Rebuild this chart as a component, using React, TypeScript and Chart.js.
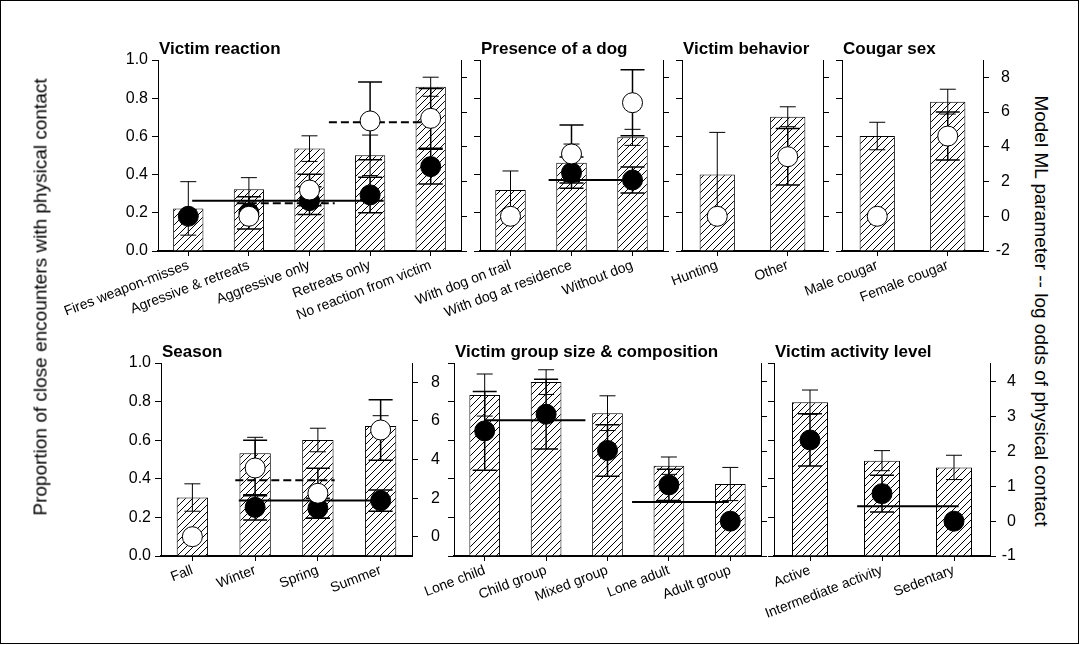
import React, { useEffect, useRef } from 'react';
import { Chart, registerables } from 'chart.js';

Chart.register(...registerables);

const FONT = "'Liberation Sans', Arial, Helvetica, sans-serif";

// ---------- tick labels ----------
const proportionTicks = [0, 0.2, 0.4, 0.6, 0.8, 1.0];
const topLogOddsTicks = [-2, 0, 2, 4, 6, 8];
const seasonLogOddsTicks = [0, 2, 4, 6, 8];
const groupLogOddsTicks = [-1, 0, 1, 2, 3, 4];

// ---------- Victim reaction ----------
const reactionCategories = ['Fires weapon-misses', 'Agressive & retreats', 'Aggressive only', 'Retreats only', 'No reaction from victim'];
const reactionBars = [0.223, 0.323, 0.536, 0.501, 0.86];
const reactionBarErr = [0.14, 0.061, 0.067, 0.106, 0.05];
const reactionOpen = [null, 0, 1.51, 5.49, 5.64];
const reactionOpenErr = [null, null, 0.91, 2.24, 1.72];
const reactionFilled = [0, 0.2, 0.9, 1.23, 2.86];
const reactionFilledErr = [null, 0.93, 0.8, 1.02, 1.0];
const reactionLineValues = [0.9, 0.75, 5.41];
const reactionLineFrom = [-0.42, 0.5, 2.4];
const reactionLineTo = [3.53, 2.52, 4.45];
const reactionLineDashed = [false, true, true];

// ---------- Presence of a dog ----------
const dogCategories = ['With dog on trail', 'With dog at residence', 'Without dog'];
const dogBars = [0.319, 0.462, 0.595];
const dogBarErr = [0.1, 0.098, 0.042];
const dogOpen = [0, 3.59, 6.54];
const dogOpenErr = [null, 1.67, 1.9];
const dogFilled = [null, 2.51, 2.09];
const dogFilledErr = [null, 0.9, 0.75];
const dogLineValues = [2.09];
const dogLineFrom = [0.5];
const dogLineTo = [2.45];
const dogLineDashed = [false];

// ---------- Victim behavior ----------
const behaviorCategories = ['Hunting', 'Other'];
const behaviorBars = [0.4, 0.703];
const behaviorBarErr = [0.221, 0.052];
const behaviorOpen = [0, 3.43];
const behaviorOpenErr = [null, 1.63];

// ---------- Cougar sex ----------
const sexCategories = ['Male cougar', 'Female cougar'];
const sexBars = [0.602, 0.782];
const sexBarErr = [0.072, 0.065];
const sexOpen = [0, 4.62];
const sexOpenErr = [null, 1.38];

// ---------- Season ----------
const seasonCategories = ['Fall', 'Winter', 'Spring', 'Summer'];
const seasonBars = [0.303, 0.532, 0.601, 0.674];
const seasonBarErr = [0.071, 0.083, 0.061, 0.053];
const seasonOpen = [0, 3.56, 2.25, 5.53];
const seasonOpenErr = [null, 1.44, 1.3, 1.57];
const seasonFilled = [null, 1.52, 1.47, 1.87];
const seasonFilledErr = [null, 0.66, 0.52, 0.55];
const seasonLineValues = [1.87, 2.93];
const seasonLineFrom = [0.55, 0.48];
const seasonLineTo = [3.4, 2.46];
const seasonLineDashed = [false, true];

// ---------- Victim group size & composition ----------
const groupCategories = ['Lone child', 'Child group', 'Mixed group', 'Lone adult', 'Adult group'];
const groupBars = [0.834, 0.901, 0.74, 0.468, 0.373];
const groupBarErr = [0.109, 0.064, 0.09, 0.045, 0.086];
const groupFilled = [2.59, 3.07, 2.03, 1.04, 0];
const groupFilledErr = [1.13, 1.0, 0.74, 0.45, null];
const groupLineValues = [2.9, 0.55];
const groupLineFrom = [-0.5, 2.5];
const groupLineTo = [1.55, 4.47];
const groupLineDashed = [false, false];

// ---------- Victim activity level ----------
const activityCategories = ['Active', 'Intermediate activity', 'Sedentary'];
const activityBars = [0.797, 0.494, 0.459];
const activityBarErr = [0.063, 0.052, 0.063];
const activityFilled = [2.33, 0.79, 0];
const activityFilledErr = [0.75, 0.53, null];
const activityLineValues = [0.43];
const activityLineFrom = [0.54];
const activityLineTo = [2.42];
const activityLineDashed = [false];

type Num = number | null;
type PanelSpec = {
  title: string;
  categories: string[];
  bars: number[];
  barErr: number[];
  open?: Num[];
  openErr?: Num[];
  filled?: Num[];
  filledErr?: Num[];
  lineValues?: number[];
  lineFrom?: number[];
  lineTo?: number[];
  lineDashed?: boolean[];
  rightMin: number;
  rightMax: number;
  rightTicks: number[];
  showLeft: boolean;
  showRight: boolean;
  rightPad: number;
  left: number;
  top: number;
  width: number;
  height: number;
  padL: number;
  padR: number;
};

const PAD_T = 40;
const PAD_B = 90;

const panels: PanelSpec[] = [
  {
    title: 'Victim reaction', categories: reactionCategories, bars: reactionBars, barErr: reactionBarErr,
    open: reactionOpen, openErr: reactionOpenErr, filled: reactionFilled, filledErr: reactionFilledErr,
    lineValues: reactionLineValues, lineFrom: reactionLineFrom, lineTo: reactionLineTo, lineDashed: reactionLineDashed,
    rightMin: -2, rightMax: 9, rightTicks: topLogOddsTicks, showLeft: true, showRight: false, rightPad: 7,
    left: 158, top: 60, width: 303, height: 191, padL: 150, padR: 27,
  },
  {
    title: 'Presence of a dog', categories: dogCategories, bars: dogBars, barErr: dogBarErr,
    open: dogOpen, openErr: dogOpenErr, filled: dogFilled, filledErr: dogFilledErr,
    lineValues: dogLineValues, lineFrom: dogLineFrom, lineTo: dogLineTo, lineDashed: dogLineDashed,
    rightMin: -2, rightMax: 9, rightTicks: topLogOddsTicks, showLeft: false, showRight: false, rightPad: 7,
    left: 480, top: 60, width: 183, height: 191, padL: 110, padR: 27,
  },
  {
    title: 'Victim behavior', categories: behaviorCategories, bars: behaviorBars, barErr: behaviorBarErr,
    open: behaviorOpen, openErr: behaviorOpenErr,
    rightMin: -2, rightMax: 9, rightTicks: topLogOddsTicks, showLeft: false, showRight: false, rightPad: 7,
    left: 682, top: 60, width: 141, height: 191, padL: 110, padR: 27,
  },
  {
    title: 'Cougar sex', categories: sexCategories, bars: sexBars, barErr: sexBarErr,
    open: sexOpen, openErr: sexOpenErr,
    rightMin: -2, rightMax: 9, rightTicks: topLogOddsTicks, showLeft: false, showRight: true, rightPad: 7,
    left: 842, top: 60, width: 141, height: 191, padL: 110, padR: 27,
  },
  {
    title: 'Season', categories: seasonCategories, bars: seasonBars, barErr: seasonBarErr,
    open: seasonOpen, openErr: seasonOpenErr, filled: seasonFilled, filledErr: seasonFilledErr,
    lineValues: seasonLineValues, lineFrom: seasonLineFrom, lineTo: seasonLineTo, lineDashed: seasonLineDashed,
    rightMin: -1, rightMax: 9, rightTicks: seasonLogOddsTicks, showLeft: true, showRight: true, rightPad: 10,
    left: 161, top: 363, width: 251, height: 193, padL: 150, padR: 28,
  },
  {
    title: 'Victim group size & composition', categories: groupCategories, bars: groupBars, barErr: groupBarErr,
    filled: groupFilled, filledErr: groupFilledErr,
    lineValues: groupLineValues, lineFrom: groupLineFrom, lineTo: groupLineTo, lineDashed: groupLineDashed,
    rightMin: -1, rightMax: 4.54, rightTicks: groupLogOddsTicks, showLeft: false, showRight: false, rightPad: 6,
    left: 454, top: 363, width: 308, height: 193, padL: 110, padR: 10,
  },
  {
    title: 'Victim activity level', categories: activityCategories, bars: activityBars, barErr: activityBarErr,
    filled: activityFilled, filledErr: activityFilledErr,
    lineValues: activityLineValues, lineFrom: activityLineFrom, lineTo: activityLineTo, lineDashed: activityLineDashed,
    rightMin: -1, rightMax: 4.54, rightTicks: groupLogOddsTicks, showLeft: false, showRight: true, rightPad: 6,
    left: 774, top: 363, width: 216, height: 193, padL: 110, padR: 26,
  },
];

function makeHatch(ctx: CanvasRenderingContext2D): CanvasPattern | string {
  const s = 7;
  const c = document.createElement('canvas');
  c.width = s;
  c.height = s;
  const g = c.getContext('2d');
  if (!g) return '#fff';
  g.fillStyle = '#fff';
  g.fillRect(0, 0, s, s);
  g.strokeStyle = '#000';
  g.lineWidth = 1;
  g.beginPath();
  g.moveTo(0, s);
  g.lineTo(s, 0);
  g.moveTo(-1, 1);
  g.lineTo(1, -1);
  g.moveTo(s - 1, s + 1);
  g.lineTo(s + 1, s - 1);
  g.stroke();
  return ctx.createPattern(c, 'repeat') || '#fff';
}

function Panel({ spec }: { spec: PanelSpec }) {
  const ref = useRef<HTMLCanvasElement>(null);
  const W = spec.width + spec.padL + spec.padR;
  const H = spec.height + PAD_T + PAD_B;

  useEffect(() => {
    const canvas = ref.current;
    if (!canvas) return;
    const ctx = canvas.getContext('2d');
    if (!ctx) return;
    const hatch = makeHatch(ctx);
    const n = spec.categories.length;

    const datasets: any[] = [];
    datasets.push({
      type: 'bar',
      data: spec.bars,
      backgroundColor: hatch,
      borderColor: '#000',
      borderWidth: 1,
      grouped: false,
      barPercentage: 0.5,
      categoryPercentage: 1,
      xAxisID: 'x',
      yAxisID: 'y',
      order: 10,
    });
    (spec.lineValues || []).forEach((v, i) => {
      datasets.push({
        type: 'line',
        data: [
          { x: spec.lineFrom![i], y: v },
          { x: spec.lineTo![i], y: v },
        ],
        xAxisID: 'xl',
        yAxisID: 'y2',
        borderColor: '#000',
        borderWidth: 2,
        borderDash: spec.lineDashed![i] ? [8, 4] : [],
        pointRadius: 0,
        fill: false,
        order: 5,
      });
    });
    if (spec.filled) {
      datasets.push({
        type: 'line',
        data: spec.filled,
        showLine: false,
        pointRadius: 10,
        pointBackgroundColor: '#000',
        pointBorderColor: '#000',
        pointBorderWidth: 1,
        xAxisID: 'x',
        yAxisID: 'y2',
        clip: false,
        order: 2,
      });
    }
    if (spec.open) {
      datasets.push({
        type: 'line',
        data: spec.open,
        showLine: false,
        pointRadius: 10,
        pointBackgroundColor: '#fff',
        pointBorderColor: '#000',
        pointBorderWidth: 1,
        xAxisID: 'x',
        yAxisID: 'y2',
        clip: false,
        order: 1,
      });
    }

    const overlay = {
      id: 'overlay',
      afterDatasetDraw(chart: any, args: any) {
        if (args.index !== 0) return;
        const c = chart.ctx as CanvasRenderingContext2D;
        const xs = chart.scales.x;
        const ys = chart.scales.y;
        const y2 = chart.scales.y2;
        c.save();
        c.strokeStyle = '#000';
        const draw = (px: number, a: number, b: number, cap: number, lw: number) => {
          c.lineWidth = lw;
          c.beginPath();
          c.moveTo(px, a);
          c.lineTo(px, b);
          c.moveTo(px - cap / 2, a);
          c.lineTo(px + cap / 2, a);
          c.moveTo(px - cap / 2, b);
          c.lineTo(px + cap / 2, b);
          c.stroke();
        };
        spec.bars.forEach((v, i) => {
          const e = spec.barErr[i];
          if (e == null) return;
          draw(xs.getPixelForValue(i), ys.getPixelForValue(v + e), ys.getPixelForValue(v - e), 16, 1);
        });
        const sets: [Num[] | undefined, Num[] | undefined][] = [
          [spec.filled, spec.filledErr],
          [spec.open, spec.openErr],
        ];
        sets.forEach(([vals, errs]) => {
          (vals || []).forEach((v, i) => {
            const e = errs ? errs[i] : null;
            if (v == null || e == null) return;
            draw(xs.getPixelForValue(i), y2.getPixelForValue(v + e), y2.getPixelForValue(v - e), 24, 1.5);
          });
        });
        c.restore();
      },
      afterDraw(chart: any) {
        const c = chart.ctx as CanvasRenderingContext2D;
        c.save();
        c.font = `bold 17px ${FONT}`;
        c.fillStyle = '#000';
        c.textAlign = 'left';
        c.textBaseline = 'alphabetic';
        c.fillText(spec.title, chart.chartArea.left + 1, chart.chartArea.top - 6);
        c.restore();
      },
    };

    const chart = new Chart(canvas, {
      type: 'bar',
      data: { labels: spec.categories, datasets },
      options: {
        responsive: false,
        animation: false,
        devicePixelRatio: 1,
        events: [],
        layout: { padding: { top: PAD_T, left: 0, right: 0, bottom: 0 } },
        plugins: { legend: { display: false }, tooltip: { enabled: false }, title: { display: false } },
        scales: {
          x: {
            type: 'category',
            position: 'bottom',
            offset: true,
            grid: { offset: false, drawOnChartArea: false, tickLength: 5, color: '#000', lineWidth: 1 },
            border: { display: true, color: '#000', width: 2 },
            ticks: {
              autoSkip: false,
              maxRotation: 21,
              minRotation: 21,
              padding: 1,
              color: '#000',
              font: { family: FONT, size: 14 },
            },
            afterFit: (s: any) => { s.height = PAD_B; },
          },
          xl: {
            type: 'linear',
            display: false,
            min: -0.5,
            max: n - 0.5,
          },
          y: {
            type: 'linear',
            position: 'left',
            min: 0,
            max: 1,
            afterBuildTicks: (s: any) => { s.ticks = proportionTicks.map((v) => ({ value: v })); },
            grid: { drawOnChartArea: false, tickLength: 6, color: '#000', lineWidth: 1 },
            border: { display: true, color: '#000', width: 1 },
            ticks: {
              display: spec.showLeft,
              padding: 4,
              color: '#000',
              font: { family: FONT, size: 16 },
              callback: (v: any) => Number(v).toFixed(1),
            },
            afterFit: (s: any) => { s.width = spec.padL; },
          },
          y2: {
            type: 'linear',
            position: 'right',
            min: spec.rightMin,
            max: spec.rightMax,
            afterBuildTicks: (s: any) => { s.ticks = spec.rightTicks.map((v) => ({ value: v })); },
            grid: { drawOnChartArea: false, tickLength: 6, color: '#000', lineWidth: 1 },
            border: { display: true, color: '#000', width: 1 },
            ticks: {
              display: spec.showRight,
              padding: spec.rightPad,
              crossAlign: 'far',
              color: '#000',
              font: { family: FONT, size: 16 },
              callback: (v: any) => String(v),
            },
            afterFit: (s: any) => { s.width = spec.padR; },
          },
        },
      } as any,
      plugins: [overlay as any],
    });
    return () => chart.destroy();
  }, []);

  return (
    <canvas
      ref={ref}
      width={W}
      height={H}
      style={{ position: 'absolute', left: spec.left - spec.padL, top: spec.top - PAD_T, width: W, height: H }}
    />
  );
}

const leftAxisTitle = 'Proportion of close encounters with physical contact';
const rightAxisTitle = 'Model ML parameter -- log odds of physical contact';

export default function App() {
  return (
    <div style={{ position: 'absolute', left: 0, top: 0, width: 1080, height: 645, background: '#fff', overflow: 'hidden' }}>
      <div style={{ position: 'absolute', left: 0, top: 0, width: 1079, height: 644, boxSizing: 'border-box', border: '1px solid #000' }} />
      {panels.map((p, i) => (
        <Panel key={i} spec={p} />
      ))}
      <div
        style={{
          position: 'absolute', left: 40, top: 297, transform: 'translate(-50%, -50%) rotate(-90deg)',
          whiteSpace: 'nowrap', fontFamily: FONT, fontSize: 19, color: '#000', lineHeight: 1,
        }}
      >
        {leftAxisTitle}
      </div>
      <div
        style={{
          position: 'absolute', left: 1041, top: 311, transform: 'translate(-50%, -50%) rotate(90deg)',
          whiteSpace: 'nowrap', fontFamily: FONT, fontSize: 19, color: '#000', lineHeight: 1,
        }}
      >
        {rightAxisTitle}
      </div>
    </div>
  );
}
